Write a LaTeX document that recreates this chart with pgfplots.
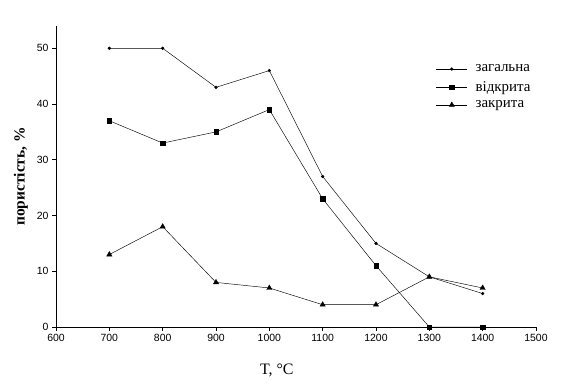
\documentclass[border=0pt]{standalone}
\usepackage{fontspec}
\setmainfont{Liberation Serif}
\newfontfamily\arial{Liberation Sans}
\usepackage{pgfplots}
\pgfplotsset{compat=1.18}
\begin{document}
\begin{tikzpicture}
\path[use as bounding box] (0,0) rectangle (577bp,385bp);
\begin{axis}[
  at={(56bp,58bp)}, anchor=south west,
  scale only axis, width=480bp, height=301bp,
  xmin=600, xmax=1500, ymin=0, ymax=54,
  xtick={600,700,...,1500}, ytick={0,10,...,50},
  axis x line*=bottom, axis y line*=left,
  axis line style={-, line width=0.6pt},
  tick align=outside, major tick length=4bp,
  tick style={black, line width=0.6pt},
  xtick pos=bottom, ytick pos=left,
  tick label style={font=\arial\fontsize{10.5}{12}\selectfont},
  /pgf/number format/assume math mode=true,
  /pgf/number format/1000 sep={},
  xlabel={T, °C},
  xlabel style={font=\fontsize{16}{18}\selectfont, at={(axis description cs:0.46,0)}, anchor=north, yshift=-33bp},
  ylabel={\textbf{пористість, \%}},
  ylabel style={font=\fontsize{15.5}{17}\selectfont, yshift=2bp},
  legend style={draw=none, fill=none, at={(0.785,0.885)}, anchor=north west,
    font=\fontsize{15}{17}\selectfont, row sep=4bp, cells={anchor=west},
    /tikz/every odd column/.append style={column sep=6bp}},
  legend image code/.code={\draw[mark repeat=2,mark phase=2] plot coordinates {(0cm,0cm)(0.55cm,0cm)(1.1cm,0cm)};},
  every axis plot/.append style={black, line width=0.45pt},
]
\addplot[mark=*, mark size=1.4bp] coordinates {(700,50)(800,50)(900,43)(1000,46)(1100,27)(1200,15)(1300,9)(1400,6)};
\addlegendentry{загальна}
\addplot[mark=square*, mark size=2.2bp] coordinates {(700,37)(800,33)(900,35)(1000,39)(1100,23)(1200,11)(1300,0)(1400,0)};
\addlegendentry{відкрита}
\addplot[mark=triangle*, mark size=3bp] coordinates {(700,13)(800,18)(900,8)(1000,7)(1100,4)(1200,4)(1300,9)(1400,7)};
\addlegendentry{закрита}
\end{axis}
\end{tikzpicture}
\end{document}
